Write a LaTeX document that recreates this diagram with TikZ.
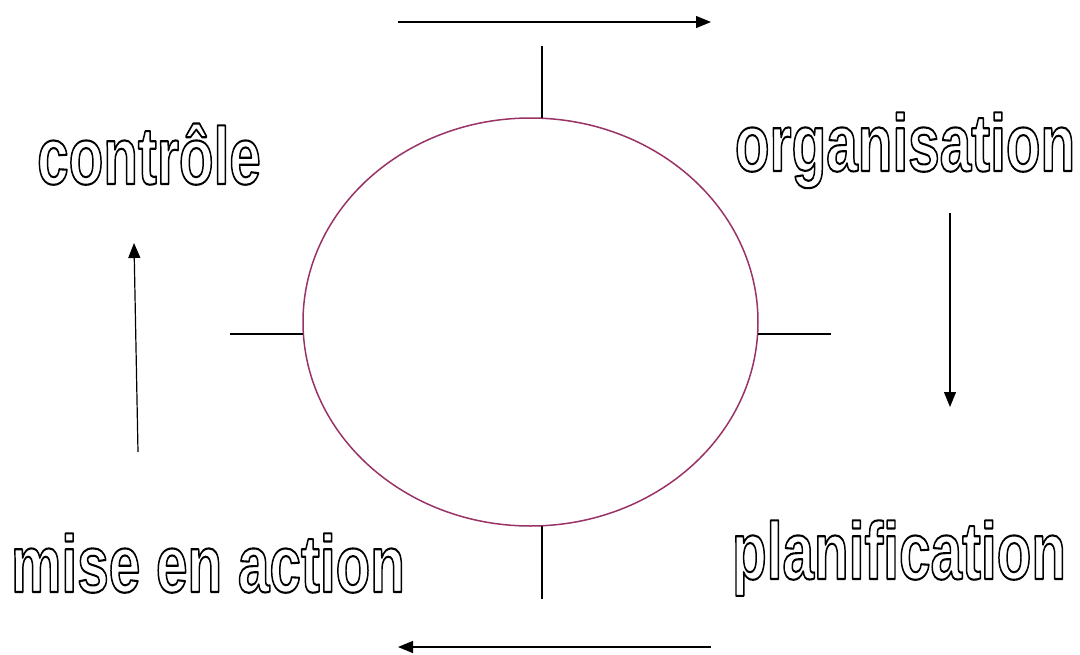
\documentclass[tikz,border=0pt]{standalone}
\usepackage{fontspec}
\setmainfont{Liberation Sans}
\usetikzlibrary{shapes.geometric,arrows.meta}
\newcommand{\hollow}[1]{\special{pdf:literal direct 1 Tr 2.1 w 1 j}\scalebox{0.70}[1]{#1}\special{pdf:literal direct 0 Tr}}
\tikzset{
  word/.style={anchor=base,text=black,inner sep=0pt,font=\fontsize{81}{81}\selectfont\bfseries},
  flow/.style={line width=1.2pt,-{Triangle[length=15pt,width=12pt]}},
  tick/.style={line width=1.2pt},
  cycle/.style={ellipse,draw={rgb,255:red,153;green,51;blue,102},line width=1.5pt,minimum width=455pt,minimum height=408pt,inner sep=0pt}
}
\begin{document}
\begin{tikzpicture}[x=1pt,y=-1pt]
\useasboundingbox (0,0) rectangle (1080,654);
\node[cycle] (circ) at (530.5,322) {};
\node[word] (ctrl) at (149,184) {\hollow{contrôle}};
\node[word] (org) at (905,171) {\hollow{organisation}};
\node[word] (act) at (208,592) {\hollow{mise en action}};
\node[word] (plan) at (899,579) {\hollow{planification}};
% ticks
\coordinate (t1) at (542,46); \coordinate (t2) at (542,118);
\coordinate (b1) at (542,526); \coordinate (b2) at (542,599);
\coordinate (l1) at (230,334); \coordinate (l2) at (303,334);
\coordinate (r1) at (758,334); \coordinate (r2) at (831,334);
\draw[tick] (t1) -- (t2);
\draw[tick] (b1) -- (b2);
\draw[tick] (l1) -- (l2);
\draw[tick] (r1) -- (r2);
% arrows
\coordinate (a1) at (398,22); \coordinate (a2) at (711,22);
\coordinate (c1) at (950,213); \coordinate (c2) at (950,407);
\coordinate (d1) at (711,647); \coordinate (d2) at (398,647);
\coordinate (e1) at (138,452); \coordinate (e2) at (134,243);
\draw[flow] (a1) -- (a2);
\draw[flow] (c1) -- (c2);
\draw[flow] (d1) -- (d2);
\draw[flow] (e1) -- (e2);
\end{tikzpicture}
\end{document}
